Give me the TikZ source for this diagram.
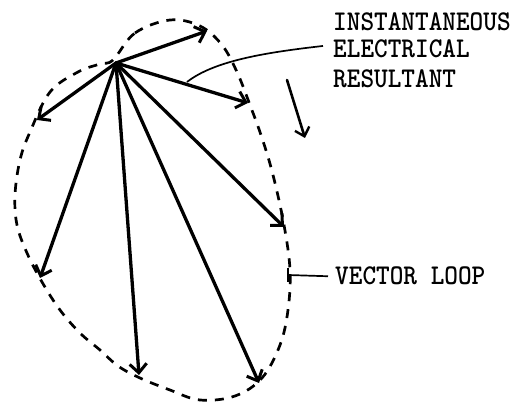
\documentclass[tikz,border=0pt]{standalone}
\usetikzlibrary{arrows.meta}
\begin{document}
\begin{tikzpicture}[x=1pt,y=-1pt,
  vec/.style={line width=3.3pt,line cap=round,-{Straight Barb[length=9pt,width=17pt,line width=3pt]}},
  loop/.style={line width=2.7pt,dash pattern=on 9pt off 8pt},
  lbl/.style={font=\fontsize{26}{28}\selectfont\ttfamily\bfseries,inner sep=0pt,anchor=base west,yscale=1.1},
  pointer/.style={line width=1.7pt}]
\useasboundingbox (0,0) rectangle (515,403);
% common origin of the vectors
\coordinate (O) at (116,63);
% vector tips
\coordinate (t1) at (207,31);
\coordinate (t2) at (37,120);
\coordinate (t3) at (248,103);
\coordinate (t4) at (284,227);
\coordinate (t5) at (40,278);
\coordinate (t6) at (139,375);
\coordinate (t7) at (259,383);
% dashed locus of the vector tips
\draw[loop] plot[smooth cycle,tension=0.6] coordinates {
  (113,60) (135,33) (170,20) (200,26) (222,45) (237,72) (250,105) (262,138)
  (273,175) (284,225) (290,270) (288,310) (280,345) (262,378) (235,396)
  (200,400) (170,390) (140,378) (118,366) (100,350) (80,333) (60,310)
  (42,282) (27,253) (17,225) (15,195) (20,160) (30,132) (50,92) (78,72) (100,64)};
% vectors
\foreach \t in {t1,t2,t3,t4,t5,t6,t7} \draw[vec] (O) -- (\t);
% direction of rotation
\coordinate (r1) at (287,80);
\coordinate (r2) at (305,138);
\draw[line width=2.6pt,line cap=round,-{Straight Barb[length=8pt,width=15pt,line width=2.4pt]}] (r1) -- (r2);
% labels
\node[lbl] (l1) at (333,31) {INSTANTANEOUS};
\node[lbl] (l2) at (333,58) {ELECTRICAL};
\node[lbl] (l3) at (333,88) {RESULTANT};
\node[lbl] (l4) at (335,285) {VECTOR LOOP};
% leaders
\coordinate (p1) at (187,82);
\draw[pointer] ([xshift=-10pt,yshift=-6pt]l2.north west) .. controls (270,52) and (215,60) .. (p1);
\coordinate (p2) at (288,275);
\draw[pointer] ([xshift=-7pt]l4.west) -- (p2);
\draw[pointer] (288,268) -- (288,282);
\end{tikzpicture}
\end{document}
